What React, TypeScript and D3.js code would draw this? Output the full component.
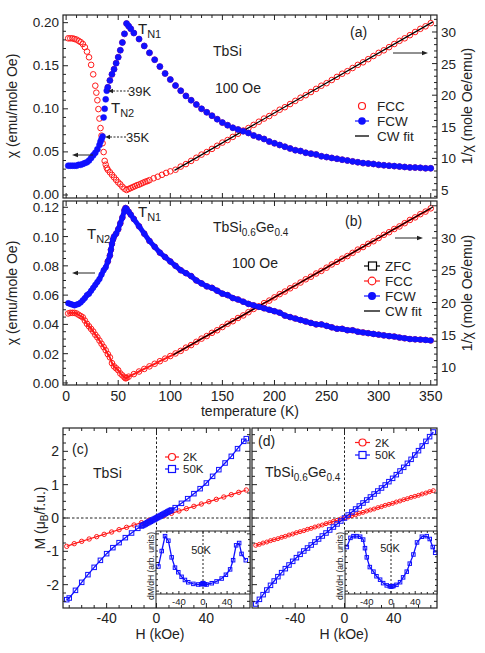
import React from "react";
import * as d3 from "d3";

// ---------------- (a) TbSi, 100 Oe ----------------
// FCW: chi (left axis)
const tFcwA = [2, 4, 6, 8, 10, 12, 14, 16, 18, 20, 22, 24, 26, 28, 30, 32, 33, 34, 35, 36, 37, 38, 39, 40, 42, 44, 46, 48, 50, 52, 54, 56, 58, 60, 62, 65, 70, 75, 80, 85, 90, 95, 100, 105, 110, 115, 120, 125, 130, 135, 140, 145, 150, 155, 160, 165, 170, 175, 180, 185, 190, 195, 200, 205, 210, 215, 220, 225, 230, 235, 240, 245, 250, 255, 260, 265, 270, 275, 280, 285, 290, 295, 300, 305, 310, 315, 320, 325, 330, 335, 340, 345, 350];
const chiFcwA = [0.034, 0.034, 0.034, 0.034, 0.034, 0.035, 0.035, 0.036, 0.037, 0.038, 0.040, 0.043, 0.046, 0.049, 0.053, 0.058, 0.062, 0.065, 0.068, 0.090, 0.100, 0.111, 0.121, 0.125, 0.133, 0.140, 0.146, 0.153, 0.160, 0.168, 0.177, 0.187, 0.199, 0.196, 0.193, 0.188, 0.181, 0.173, 0.165, 0.157, 0.149, 0.141, 0.134, 0.127, 0.121, 0.115, 0.110, 0.105, 0.100, 0.096, 0.092, 0.088, 0.084, 0.081, 0.078, 0.076, 0.074, 0.072, 0.069, 0.067, 0.065, 0.062, 0.060, 0.058, 0.056, 0.054, 0.052, 0.051, 0.049, 0.048, 0.047, 0.045, 0.044, 0.043, 0.042, 0.041, 0.040, 0.039, 0.038, 0.037, 0.0365, 0.036, 0.035, 0.0345, 0.034, 0.0335, 0.033, 0.0325, 0.032, 0.0318, 0.0315, 0.031, 0.031];
// FCC: 1/chi (right axis)
const tFccA = [2, 4, 6, 8, 10, 12, 14, 16, 18, 20, 22, 24, 26, 28, 29, 30, 31, 32, 33, 34, 35, 36, 37, 38, 39, 40, 42, 44, 46, 48, 50, 52, 54, 56, 58, 60, 62, 64, 66, 68, 70, 72, 74, 76, 78, 80, 84, 88, 92, 96, 100, 105, 110, 115, 120, 125, 130, 135, 140, 145, 150, 155, 160, 165, 170, 175, 180, 185, 190, 195, 200, 205, 210, 215, 220, 225, 230, 235, 240, 245, 250, 255, 260, 265, 270, 275, 280, 285, 290, 295, 300, 305, 310, 315, 320, 325, 330, 335, 340, 345, 350];
const invFccA = [29.0, 29.0, 29.0, 28.9, 28.8, 28.6, 28.4, 28.1, 27.6, 26.9, 26.0, 24.8, 23.3, 21.5, 20.4, 19.2, 17.8, 16.3, 14.8, 13.6, 12.4, 11.0, 9.6, 9.0, 8.5, 8.2, 7.8, 7.4, 7.0, 6.6, 6.2, 5.9, 5.5, 5.2, 5.0, 5.15, 5.3, 5.45, 5.6, 5.75, 5.85, 6.0, 6.15, 6.3, 6.4, 6.55, 6.85, 7.1, 7.4, 7.7, 7.95, 8.2, 8.7, 9.1, 9.6, 10.1, 10.6, 11.0, 11.5, 12.0, 12.5, 12.9, 13.4, 13.9, 14.4, 14.8, 15.3, 15.8, 16.3, 16.7, 17.2, 17.7, 18.1, 18.6, 19.1, 19.6, 20.0, 20.5, 21.0, 21.5, 21.9, 22.4, 22.9, 23.4, 23.8, 24.3, 24.8, 25.2, 25.7, 26.2, 26.7, 27.1, 27.6, 28.1, 28.6, 29.0, 29.5, 30.0, 30.5, 30.9, 31.4];
const cwTA = [104, 352];
const cwInvA = [8.1, 31.6];

// ---------------- (b) TbSi0.6Ge0.4, 100 Oe ----------------
const tFcwB = [2, 4, 6, 8, 10, 12, 14, 16, 18, 20, 22, 24, 26, 28, 30, 32, 34, 36, 38, 40, 42, 43, 44, 45, 46, 48, 50, 52, 54, 56, 57, 58, 60, 62, 65, 70, 75, 80, 85, 90, 95, 100, 105, 110, 115, 120, 125, 130, 135, 140, 145, 150, 155, 160, 165, 170, 175, 180, 185, 190, 195, 200, 205, 210, 215, 220, 225, 230, 235, 240, 245, 250, 255, 260, 265, 270, 275, 280, 285, 290, 295, 300, 305, 310, 315, 320, 325, 330, 335, 340, 345, 350];
const chiFcwB = [0.0545, 0.054, 0.0535, 0.053, 0.0535, 0.054, 0.055, 0.0565, 0.058, 0.060, 0.061, 0.063, 0.065, 0.067, 0.069, 0.071, 0.074, 0.077, 0.079, 0.083, 0.087, 0.091, 0.095, 0.098, 0.100, 0.102, 0.105, 0.109, 0.113, 0.118, 0.1195, 0.119, 0.117, 0.115, 0.112, 0.107, 0.102, 0.097, 0.093, 0.089, 0.086, 0.083, 0.080, 0.077, 0.075, 0.073, 0.070, 0.068, 0.066, 0.065, 0.063, 0.061, 0.060, 0.058, 0.057, 0.0555, 0.054, 0.053, 0.052, 0.051, 0.050, 0.049, 0.048, 0.046, 0.045, 0.044, 0.043, 0.042, 0.041, 0.040, 0.040, 0.039, 0.038, 0.037, 0.037, 0.036, 0.036, 0.035, 0.0345, 0.034, 0.0335, 0.033, 0.0325, 0.032, 0.0317, 0.031, 0.0305, 0.030, 0.0298, 0.0296, 0.0294, 0.029];
const tFccB = [2, 4, 6, 8, 10, 12, 14, 16, 18, 20, 22, 24, 26, 28, 30, 32, 34, 36, 38, 40, 42, 44, 46, 48, 50, 52, 54, 56, 57, 58, 60, 65, 70, 75, 80, 85, 90, 95, 100, 105, 110, 115, 120, 125, 130, 135, 140, 145, 150, 155, 160, 165, 170, 175, 180, 185, 190, 195, 200, 205, 210, 215, 220, 225, 230, 235, 240, 245, 250, 255, 260, 265, 270, 275, 280, 285, 290, 295, 300, 305, 310, 315, 320, 325, 330, 335, 340, 345, 350];
const invFccB = [18.3, 18.4, 18.4, 18.4, 18.3, 18.1, 17.9, 17.7, 17.2, 16.7, 16.3, 15.9, 15.5, 15.0, 14.6, 14.1, 13.6, 13.1, 12.6, 12.0, 11.5, 10.6, 10.1, 9.8, 9.5, 9.0, 8.7, 8.4, 8.25, 8.3, 8.5, 8.9, 9.3, 9.7, 10.1, 10.5, 10.9, 11.3, 11.7, 12.1, 12.5, 13.0, 13.4, 13.9, 14.4, 14.8, 15.3, 15.7, 16.2, 16.7, 17.1, 17.6, 18.0, 18.5, 19.0, 19.4, 19.9, 20.3, 20.8, 21.3, 21.7, 22.2, 22.6, 23.1, 23.6, 24.0, 24.5, 24.9, 25.4, 25.9, 26.3, 26.8, 27.2, 27.7, 28.2, 28.6, 29.1, 29.5, 30.0, 30.5, 30.9, 31.4, 31.8, 32.3, 32.8, 33.2, 33.7, 34.1, 34.6];
const cwTB = [103, 352];
const cwInvB = [11.9, 34.8];

// ---------------- (c) TbSi, M(H) ----------------
const hC2K = [-72, -66, -60, -54, -48, -42, -36, -30, -24, -18, -12, -6, 0, 6, 12, 18, 24, 30, 36, 42, 48, 54, 60, 66, 72];
const mC2K = [-0.85, -0.77, -0.70, -0.63, -0.56, -0.49, -0.42, -0.35, -0.28, -0.21, -0.14, -0.07, 0, 0.07, 0.14, 0.21, 0.28, 0.35, 0.42, 0.49, 0.56, 0.63, 0.70, 0.77, 0.84];
const hC50K = [-72, -70, -65, -60, -55, -50, -45, -40, -35, -30, -25, -20, -15, -12, -11, -10, -9, -8, -7, -6, -5, -4, -3, -2, -1, 0, 1, 2, 3, 4, 5, 6, 7, 8, 9, 10, 11, 12, 15, 20, 25, 30, 35, 40, 45, 50, 55, 60, 65, 70, 72];
const mC50K = [-2.45, -2.40, -2.17, -1.93, -1.70, -1.48, -1.27, -1.07, -0.89, -0.74, -0.59, -0.45, -0.31, -0.24, -0.22, -0.20, -0.18, -0.16, -0.14, -0.12, -0.10, -0.08, -0.06, -0.04, -0.02, 0, 0.02, 0.04, 0.06, 0.08, 0.10, 0.12, 0.14, 0.16, 0.18, 0.20, 0.22, 0.24, 0.31, 0.44, 0.58, 0.73, 0.88, 1.05, 1.25, 1.45, 1.65, 1.85, 2.08, 2.30, 2.38];
// inset dM/dH at 50K (arb. units)
const hInC = [-74, -68.5, -63, -57.5, -52, -46.5, -41, -35.5, -30, -24.5, -16, -8, -3, -1, 0, 1, 3, 6, 14.5, 22.5, 31, 38, 45, 50, 55, 60, 64, 71];
const dInC = [0.43, 0.70, 0.96, 0.88, 0.59, 0.41, 0.33, 0.25, 0.195, 0.155, 0.127, 0.116, 0.12, 0.13, 0.14, 0.13, 0.12, 0.116, 0.138, 0.17, 0.22, 0.286, 0.38, 0.54, 0.80, 0.84, 0.65, 0.54];

// ---------------- (d) TbSi0.6Ge0.4, M(H) ----------------
const hD = [-72, -69, -66, -63, -60, -57, -54, -51, -48, -45, -42, -39, -36, -33, -30, -27, -24, -21, -18, -15, -12, -9, -6, -3, 0, 3, 6, 9, 12, 15, 18, 21, 24, 27, 30, 33, 36, 39, 42, 45, 48, 51, 54, 57, 60, 63, 66, 69, 72];
const mD2K = [-0.82, -0.79, -0.75, -0.72, -0.68, -0.65, -0.62, -0.58, -0.55, -0.51, -0.48, -0.44, -0.41, -0.38, -0.34, -0.31, -0.27, -0.24, -0.21, -0.17, -0.14, -0.10, -0.07, -0.03, 0, 0.03, 0.07, 0.10, 0.14, 0.17, 0.21, 0.24, 0.27, 0.31, 0.34, 0.38, 0.41, 0.44, 0.48, 0.51, 0.55, 0.58, 0.62, 0.65, 0.68, 0.72, 0.75, 0.79, 0.82];
const mD50K = [-2.58, -2.44, -2.30, -2.16, -2.02, -1.89, -1.76, -1.64, -1.52, -1.41, -1.30, -1.19, -1.09, -0.99, -0.90, -0.81, -0.72, -0.63, -0.54, -0.45, -0.36, -0.27, -0.18, -0.09, 0, 0.09, 0.18, 0.27, 0.36, 0.45, 0.54, 0.63, 0.72, 0.81, 0.90, 0.99, 1.09, 1.19, 1.30, 1.41, 1.52, 1.64, 1.76, 1.89, 2.02, 2.16, 2.30, 2.44, 2.58];
const hInD = [-73, -67, -62, -57, -51, -46, -43, -40, -35, -29, -24, -18, -13, -7, -2, 0, 2, 4, 9, 15, 20, 26, 31, 37, 43, 51, 59, 64, 69, 73];
const dInD = [0.77, 0.93, 0.96, 0.96, 0.95, 0.90, 0.75, 0.59, 0.42, 0.34, 0.26, 0.20, 0.14, 0.10, 0.085, 0.08, 0.085, 0.09, 0.11, 0.156, 0.24, 0.34, 0.48, 0.64, 0.85, 0.95, 0.96, 0.91, 0.77, 0.67];

// tick labels
const tTickLabels = [0, 50, 100, 150, 200, 250, 300, 350];
const chiTicksA = [0, 0.05, 0.1, 0.15, 0.2];
const invTicksA = [5, 10, 15, 20, 25, 30];
const chiTicksB = [0, 0.02, 0.04, 0.06, 0.08, 0.1, 0.12];
const invTicksB = [10, 15, 20, 25, 30];
const hTicks = [-40, 0, 40];
const mTicks = [-2, -1, 0, 1, 2];

const FONT = "'Liberation Sans', Arial, Helvetica, sans-serif";
const RED = "#ff1a1a";
const BLUE = "#1010ff";
const INK = "#222";

// scales
const tX = d3.scaleLinear().domain([-3, 356]).range([63, 437]);
const yA = d3.scaleLinear().domain([-0.0035, 0.2089]).range([198, 15]);
const yAR = d3.scaleLinear().domain([3.73, 32.69]).range([198, 15]);
const yB = d3.scaleLinear().domain([-0.0014, 0.1243]).range([385, 201]);
const yBR = d3.scaleLinear().domain([7.21, 35.74]).range([385, 201]);
const hXC = d3.scaleLinear().domain([-75, 75]).range([63, 250]);
const hXD = d3.scaleLinear().domain([-75, 75]).range([252, 437]);
const mY = d3.scaleLinear().domain([-2.7, 2.7]).range([608, 428]);
const inXC = d3.scaleLinear().domain([-78, 78]).range([156, 250]);
const inXD = d3.scaleLinear().domain([-76, 76]).range([345, 437]);
const inY = d3.scaleLinear().domain([-0.05, 1.05]).range([594, 531]);

const zip = (a, b) => a.map((v, i) => [v, b[i]]);

function tickVals(s, step) {
  const [a, b] = d3.extent(s.domain());
  const k0 = Math.ceil(a / step - 1e-9);
  const k1 = Math.floor(b / step + 1e-9);
  return d3.range(k0, k1 + 1).map((k) => +(k * step).toFixed(6));
}
const isMaj = (v, m) => Math.abs(v / m - Math.round(v / m)) < 1e-6;

function Frame({ x, y, yR = null, xStep, xMajor, yStep, yMajor, yRStep = 1, yRMajor = 5, big = 5, small = 3, sw = 1.2 }) {
  const [xa, xb] = x.range();
  const [yb, ya] = y.range();
  const out = [];
  tickVals(x, xStep).forEach((v, i) => {
    const L = isMaj(v, xMajor) ? big : small;
    const p = x(v);
    out.push(<line key={"xb" + i} x1={p} x2={p} y1={yb} y2={yb - L} />);
    out.push(<line key={"xt" + i} x1={p} x2={p} y1={ya} y2={ya + L} />);
  });
  tickVals(y, yStep).forEach((v, i) => {
    const L = isMaj(v, yMajor) ? big : small;
    const p = y(v);
    out.push(<line key={"yl" + i} x1={xa} x2={xa + L} y1={p} y2={p} />);
    if (!yR) out.push(<line key={"yr" + i} x1={xb} x2={xb - L} y1={p} y2={p} />);
  });
  if (yR) {
    tickVals(yR, yRStep).forEach((v, i) => {
      const L = isMaj(v, yRMajor) ? big : small;
      const p = yR(v);
      out.push(<line key={"rr" + i} x1={xb} x2={xb - L} y1={p} y2={p} />);
    });
  }
  return (
    <g stroke={INK} strokeWidth={1} fill="none">
      {out}
      <rect x={xa} y={ya} width={xb - xa} height={yb - ya} strokeWidth={sw} />
    </g>
  );
}

function Arrow({ x1, y1, x2, y2, dash = null, head = 6 }) {
  const ang = Math.atan2(y2 - y1, x2 - x1);
  const bx = x2 - head * Math.cos(ang);
  const by = y2 - head * Math.sin(ang);
  const nx = -Math.sin(ang) * 2.3;
  const ny = Math.cos(ang) * 2.3;
  return (
    <g>
      <line x1={x1} y1={y1} x2={bx} y2={by} stroke={INK} strokeWidth={1} strokeDasharray={dash || undefined} />
      <polygon points={`${x2},${y2} ${bx + nx},${by + ny} ${bx - nx},${by - ny}`} fill={INK} />
    </g>
  );
}

const Circles = ({ pts, x, y, r, fill = "none", stroke, sw = 1 }) => (
  <g>
    {pts.map((p, i) => (
      <circle key={i} cx={x(p[0])} cy={y(p[1])} r={r} fill={fill} stroke={stroke} strokeWidth={sw} />
    ))}
  </g>
);
const Squares = ({ pts, x, y, s, stroke, sw = 1 }) => (
  <g>
    {pts.map((p, i) => (
      <rect key={i} x={x(p[0]) - s / 2} y={y(p[1]) - s / 2} width={s} height={s} fill="none" stroke={stroke} strokeWidth={sw} />
    ))}
  </g>
);

const TN = ({ x, y, n }) => (
  <text x={x} y={y} fontSize={15}>
    T<tspan dy={4} fontSize={11}>{"N" + n}</tspan>
  </text>
);

export default function App() {
  const fcwA = zip(tFcwA, chiFcwA);
  const fccA = zip(tFccA, invFccA);
  const fccChiA = fcwA.filter((d) => d[0] >= 40);
  const fcwB = zip(tFcwB, chiFcwB);
  const fccB = zip(tFccB, invFccB);
  const fccChiB = fcwB.filter((d) => d[0] >= 40);

  const lineAR = d3.line().x((d) => tX(d[0])).y((d) => yAR(d[1]));
  const lineB = d3.line().x((d) => tX(d[0])).y((d) => yB(d[1]));
  const lineBR = d3.line().x((d) => tX(d[0])).y((d) => yBR(d[1]));
  const lineC = d3.line().x((d) => hXC(d[0])).y((d) => mY(d[1]));
  const lineD = d3.line().x((d) => hXD(d[0])).y((d) => mY(d[1]));
  const lineInC = d3.line().x((d) => inXC(d[0])).y((d) => inY(d[1]));
  const lineInD = d3.line().x((d) => inXD(d[0])).y((d) => inY(d[1]));

  const c2 = zip(hC2K, mC2K);
  const c50 = zip(hC50K, mC50K);
  const d2 = zip(hD, mD2K);
  const d50 = zip(hD, mD50K);
  const inC = zip(hInC, dInC);
  const inD = zip(hInD, dInD);

  return (
    <svg width={485} height={653} style={{ position: "absolute", left: 0, top: 0, background: "#fff" }} fontFamily={FONT} fill={INK}>
      <rect x={0} y={0} width={485} height={653} fill="#fff" />

      {/* ---------- panel (a) ---------- */}
      <g>
        <Circles pts={fccChiA} x={tX} y={yA} r={2.8} stroke={RED} />
        <Circles pts={fccA} x={tX} y={yAR} r={2.8} stroke={RED} />
        <path d={lineAR(zip(cwTA, cwInvA))} stroke="#000" strokeWidth={1.2} fill="none" />
        <Circles pts={fcwA} x={tX} y={yA} r={3} fill={BLUE} stroke={BLUE} sw={0.5} />
      </g>
      <Frame x={tX} y={yA} yR={yAR} xStep={10} xMajor={50} yStep={0.01} yMajor={0.05} yRStep={1} yRMajor={5} />
      {chiTicksA.map((v) => (
        <text key={v} x={59} y={yA(v) + 4.5} fontSize={13.5} textAnchor="end">{d3.format(".2f")(v)}</text>
      ))}
      {invTicksA.map((v) => (
        <text key={v} x={441} y={yAR(v) + 5} fontSize={13.5}>{v}</text>
      ))}
      <TN x={138} y={34} n={1} />
      <TN x={111} y={113} n={2} />
      <text x={213} y={56} fontSize={14}>TbSi</text>
      <text x={215} y={93} fontSize={14}>100 Oe</text>
      <text x={350} y={37} fontSize={14}>(a)</text>
      <Arrow x1={129} y1={91} x2={108} y2={91} dash="2,1.5" head={5} />
      <text x={128} y={96} fontSize={13}>39K</text>
      <Arrow x1={126} y1={137} x2={105} y2={137} dash="2,1.5" head={5} />
      <text x={126} y={142} fontSize={13}>35K</text>
      <Arrow x1={93} y1={155} x2={72} y2={155} />
      <Arrow x1={393} y1={53} x2={428} y2={53} />
      {/* legend a */}
      <circle cx={362} cy={106} r={3.5} fill="none" stroke={RED} strokeWidth={1.2} />
      <text x={377} y={110.5} fontSize={13.5}>FCC</text>
      <line x1={355} x2={369} y1={121} y2={121} stroke={BLUE} strokeWidth={1.2} />
      <circle cx={362} cy={121} r={3.8} fill={BLUE} />
      <text x={377} y={125.5} fontSize={13.5}>FCW</text>
      <line x1={355} x2={369} y1={136} y2={136} stroke="#000" strokeWidth={1.3} />
      <text x={377} y={140.5} fontSize={13.5}>CW fit</text>

      {/* ---------- panel (b) ---------- */}
      <g>
        <Circles pts={fccChiB} x={tX} y={yB} r={2.8} stroke={RED} />
        <path d={lineBR(fccB)} stroke={RED} strokeWidth={2} fill="none" />
        <Circles pts={fccB} x={tX} y={yBR} r={2.8} stroke={RED} />
        <path d={lineBR(zip(cwTB, cwInvB))} stroke="#000" strokeWidth={1.2} fill="none" />
        <path d={lineB(fcwB)} stroke={BLUE} strokeWidth={5} fill="none" strokeLinejoin="round" />
        <Circles pts={fcwB} x={tX} y={yB} r={2.8} fill={BLUE} stroke={BLUE} sw={0.5} />
      </g>
      <Frame x={tX} y={yB} yR={yBR} xStep={10} xMajor={50} yStep={0.005} yMajor={0.02} yRStep={1} yRMajor={5} />
      {chiTicksB.map((v) => (
        <text key={v} x={59} y={yB(v) + 5} fontSize={13.5} textAnchor="end">{d3.format(".2f")(v)}</text>
      ))}
      {invTicksB.map((v) => (
        <text key={v} x={441} y={yBR(v) + 5} fontSize={13.5}>{v}</text>
      ))}
      {tTickLabels.map((v) => (
        <text key={v} x={tX(v)} y={401} fontSize={14} textAnchor="middle">{v}</text>
      ))}
      <text x={250} y={416} fontSize={14} textAnchor="middle">temperature (K)</text>
      <TN x={138} y={217} n={1} />
      <TN x={87} y={239} n={2} />
      <text x={213} y={232} fontSize={14}>
        TbSi<tspan dy={4} fontSize={10}>0.6</tspan><tspan dy={-4}>Ge</tspan><tspan dy={4} fontSize={10}>0.4</tspan>
      </text>
      <text x={232} y={268} fontSize={14}>100 Oe</text>
      <text x={345} y={226} fontSize={14}>(b)</text>
      <Arrow x1={95} y1={273} x2={72} y2={273} />
      <Arrow x1={395} y1={238} x2={423} y2={238} />
      {/* legend b */}
      <line x1={364} x2={380} y1={266} y2={266} stroke="#000" strokeWidth={1.2} />
      <rect x={368.5} y={262} width={8} height={8} fill="#fff" stroke="#000" strokeWidth={1.2} />
      <text x={385} y={270.5} fontSize={13.5}>ZFC</text>
      <line x1={364} x2={380} y1={281} y2={281} stroke={RED} strokeWidth={1.2} />
      <circle cx={372} cy={281} r={3.8} fill="#fff" stroke={RED} strokeWidth={1.2} />
      <text x={385} y={285.5} fontSize={13.5}>FCC</text>
      <line x1={364} x2={380} y1={296} y2={296} stroke={BLUE} strokeWidth={1.2} />
      <circle cx={372} cy={296} r={4} fill={BLUE} />
      <text x={385} y={300.5} fontSize={13.5}>FCW</text>
      <line x1={364} x2={380} y1={311} y2={311} stroke="#000" strokeWidth={1.3} />
      <text x={385} y={315.5} fontSize={13.5}>CW fit</text>

      {/* shared axis titles a/b */}
      <text transform="translate(17,106) rotate(-90)" fontSize={14} textAnchor="middle">χ (emu/mole Oe)</text>
      <text transform="translate(17,293) rotate(-90)" fontSize={14} textAnchor="middle">χ (emu/mole Oe)</text>
      <text transform="translate(472,106) rotate(-90)" fontSize={14} textAnchor="middle">1/χ (mole Oe/emu)</text>
      <text transform="translate(472,293) rotate(-90)" fontSize={14} textAnchor="middle">1/χ (mole Oe/emu)</text>

      {/* ---------- panel (c) ---------- */}
      <line x1={63} x2={250} y1={mY(0)} y2={mY(0)} stroke={INK} strokeDasharray="2.5,2" />
      <line x1={hXC(0)} x2={hXC(0)} y1={428} y2={531} stroke={INK} strokeDasharray="2.5,2" />
      <path d={lineC(c2)} stroke={RED} strokeWidth={1.2} fill="none" />
      <Circles pts={c2} x={hXC} y={mY} r={2.2} stroke={RED} sw={1} />
      <path d={lineC(c50)} stroke={BLUE} strokeWidth={1.3} fill="none" />
      <Squares pts={c50} x={hXC} y={mY} s={4.5} stroke={BLUE} />
      <Frame x={hXC} y={mY} xStep={10} xMajor={40} yStep={0.25} yMajor={1} />
      {mTicks.map((v) => (
        <text key={v} x={59} y={mY(v) + 5} fontSize={14} textAnchor="end">{v}</text>
      ))}
      {hTicks.map((v) => (
        <text key={v} x={hXC(v)} y={623} fontSize={14} textAnchor="middle">{v}</text>
      ))}
      <text x={160} y={639} fontSize={14} textAnchor="middle">H (kOe)</text>
      <text transform="translate(45,518) rotate(-90)" fontSize={14} textAnchor="middle">
        M (μ<tspan dy={3} fontSize={10}>B</tspan><tspan dy={-3}>/f.u.)</tspan>
      </text>
      <text x={72} y={454} fontSize={14}>(c)</text>
      <text x={93} y={478} fontSize={14}>TbSi</text>
      <line x1={165} x2={179} y1={457} y2={457} stroke={RED} strokeWidth={1.2} />
      <circle cx={172} cy={457} r={3.5} fill="#fff" stroke={RED} strokeWidth={1.2} />
      <text x={183} y={461} fontSize={11.5}>2K</text>
      <line x1={165} x2={179} y1={469} y2={469} stroke={BLUE} strokeWidth={1.2} />
      <rect x={168.5} y={465.5} width={7} height={7} fill="#fff" stroke={BLUE} strokeWidth={1.2} />
      <text x={183} y={473} fontSize={11.5}>50K</text>
      {/* inset c */}
      <rect x={156} y={531} width={94} height={63} fill="#fff" />
      <line x1={inXC(0)} x2={inXC(0)} y1={531} y2={594} stroke={INK} strokeDasharray="2,2" />
      <path d={lineInC(inC)} stroke={BLUE} strokeWidth={1.3} fill="none" />
      <Squares pts={inC} x={inXC} y={inY} s={3.5} stroke={BLUE} />
      <Frame x={inXC} y={inY} xStep={10} xMajor={40} yStep={0.1} yMajor={0.5} big={3} small={2} sw={1} />
      <line x1={156} x2={156} y1={594} y2={608} stroke={INK} />
      {hTicks.map((v) => (
        <text key={v} x={inXC(v)} y={604.5} fontSize={9.5} textAnchor="middle">{v}</text>
      ))}
      <text x={201} y={554} fontSize={11} textAnchor="middle">50K</text>
      <text transform="translate(154,566) rotate(-90)" fontSize={8.5} textAnchor="middle">dM/dH (arb. units)</text>

      {/* ---------- panel (d) ---------- */}
      <line x1={252} x2={437} y1={mY(0)} y2={mY(0)} stroke={INK} strokeDasharray="2.5,2" />
      <line x1={hXD(0)} x2={hXD(0)} y1={428} y2={531} stroke={INK} strokeDasharray="2.5,2" />
      <path d={lineD(d2)} stroke={RED} strokeWidth={1.2} fill="none" />
      <Circles pts={d2} x={hXD} y={mY} r={2} stroke={RED} sw={1} />
      <path d={lineD(d50)} stroke={BLUE} strokeWidth={1.3} fill="none" />
      <Squares pts={d50} x={hXD} y={mY} s={4.5} stroke={BLUE} />
      <Frame x={hXD} y={mY} xStep={10} xMajor={40} yStep={0.25} yMajor={1} />
      {hTicks.map((v) => (
        <text key={v} x={hXD(v)} y={623} fontSize={14} textAnchor="middle">{v}</text>
      ))}
      <text x={344} y={639} fontSize={14} textAnchor="middle">H (kOe)</text>
      <text x={258} y={446} fontSize={14}>(d)</text>
      <text x={265} y={477} fontSize={14}>
        TbSi<tspan dy={4} fontSize={10}>0.6</tspan><tspan dy={-4}>Ge</tspan><tspan dy={4} fontSize={10}>0.4</tspan>
      </text>
      <line x1={355} x2={370} y1={442.5} y2={442.5} stroke={RED} strokeWidth={1.2} />
      <circle cx={362.5} cy={442.5} r={3.5} fill="#fff" stroke={RED} strokeWidth={1.2} />
      <text x={375} y={446.5} fontSize={11.5}>2K</text>
      <line x1={355} x2={370} y1={455} y2={455} stroke={BLUE} strokeWidth={1.2} />
      <rect x={359} y={451.5} width={7} height={7} fill="#fff" stroke={BLUE} strokeWidth={1.2} />
      <text x={375} y={459} fontSize={11.5}>50K</text>
      {/* inset d */}
      <rect x={345} y={531} width={92} height={63} fill="#fff" />
      <line x1={inXD(0)} x2={inXD(0)} y1={531} y2={594} stroke={INK} strokeDasharray="2,2" />
      <path d={lineInD(inD)} stroke={BLUE} strokeWidth={1.3} fill="none" />
      <Squares pts={inD} x={inXD} y={inY} s={3.5} stroke={BLUE} />
      <Frame x={inXD} y={inY} xStep={10} xMajor={40} yStep={0.1} yMajor={0.5} big={3} small={2} sw={1} />
      <line x1={345} x2={345} y1={594} y2={608} stroke={INK} />
      {hTicks.map((v) => (
        <text key={v} x={inXD(v)} y={604.5} fontSize={9.5} textAnchor="middle">{v}</text>
      ))}
      <text x={390} y={552} fontSize={11} textAnchor="middle">50K</text>
      <text transform="translate(343,566) rotate(-90)" fontSize={8.5} textAnchor="middle">dM/dH (arb. units)</text>
    </svg>
  );
}
